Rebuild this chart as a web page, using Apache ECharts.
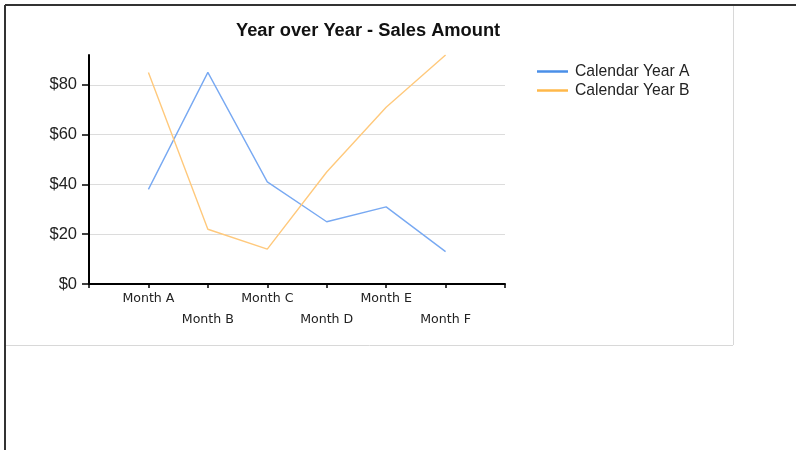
<!DOCTYPE html>
<html>
<head>
<meta charset="utf-8">
<script src="https://cdn.jsdelivr.net/npm/echarts@6/dist/echarts.min.js"></script>
<style>
html,body{margin:0;padding:0;background:#fff;}
#chart{width:796px;height:450px;}
</style>
</head>
<body>
<div id="chart"></div>
<script>
var categories = ['Month A', 'Month B', 'Month C', 'Month D', 'Month E', 'Month F'];
var yearA = [38, 85, 41, 25, 31, 13];
var yearB = [85, 22, 14, 45, 71, 92];
var yTicks = [0, 20, 40, 60, 80];
var seriesNames = ['Calendar Year A', 'Calendar Year B'];

var paddedCats = [''].concat(categories, ['']);
function pad(arr) { return [null].concat(arr, [null]); }

var chart = echarts.init(document.getElementById('chart'), null, {renderer: 'canvas'});
chart.setOption({
  animation: false,
  backgroundColor: '#ffffff',
  title: {
    text: 'Year over Year - Sales Amount',
    left: 236,
    top: 21.5,
    padding: 0,
    textStyle: {fontFamily: 'Liberation Sans', fontSize: 18.3, fontWeight: 'bold', color: '#111'}
  },
  legend: {
    orient: 'vertical',
    left: 537,
    top: 62,
    padding: 0,
    itemGap: 0,
    itemWidth: 31,
    itemHeight: 2.5,
    icon: 'rect',
    textStyle: {fontFamily: 'Liberation Sans', fontSize: 15.7, color: '#222', lineHeight: 19, padding: [0, 0, 0, 2]},
    data: [
      {name: seriesNames[0], itemStyle: {color: '#4a8fe8'}},
      {name: seriesNames[1], itemStyle: {color: '#ffb84a'}}
    ]
  },
  grid: {left: 89, right: 291, top: 55, bottom: 166, containLabel: false},
  xAxis: {
    type: 'category',
    boundaryGap: false,
    data: paddedCats,
    axisLine: {show: true, lineStyle: {color: '#000', width: 2}},
    axisTick: {show: true, length: 4, interval: 0, lineStyle: {color: '#000', width: 1.5}},
    axisLabel: {
      interval: 0,
      margin: 3.8,
      fontFamily: 'DejaVu Sans',
      fontSize: 12.6,
      lineHeight: 21.5,
      color: '#222',
      formatter: function (v, i) { return i % 2 === 0 ? '\n' + v : v; }
    },
    splitLine: {show: false}
  },
  yAxis: {
    type: 'value',
    min: 0,
    max: 92,
    interval: 20,
    axisLine: {show: true, lineStyle: {color: '#000', width: 2}},
    axisTick: {show: true, length: 7, customValues: yTicks, lineStyle: {color: '#000', width: 1.5}},
    axisLabel: {
      customValues: yTicks,
      margin: 12,
      fontFamily: 'Liberation Sans',
      fontSize: 16.5,
      color: '#222',
      formatter: function (v) { return '$' + v; }
    },
    splitLine: {show: true, showMinLine: false, lineStyle: {color: '#dcdcdc', width: 1}}
  },
  series: [
    {
      name: seriesNames[0],
      type: 'line',
      data: pad(yearA),
      symbol: 'none',
      itemStyle: {color: '#4a8fe8'},
      lineStyle: {color: '#78a9f2', width: 1.4}
    },
    {
      name: seriesNames[1],
      type: 'line',
      data: pad(yearB),
      symbol: 'none',
      itemStyle: {color: '#ffb84a'},
      lineStyle: {color: '#ffc97c', width: 1.4}
    }
  ],
  graphic: [
    {type: 'line', shape: {x1: 5, y1: 5, x2: 796, y2: 5}, style: {stroke: '#333', lineWidth: 2}, silent: true},
    {type: 'line', shape: {x1: 5, y1: 5, x2: 5, y2: 450}, style: {stroke: '#333', lineWidth: 2}, silent: true},
    {type: 'line', shape: {x1: 733.5, y1: 6, x2: 733.5, y2: 345}, style: {stroke: '#d8d8d8', lineWidth: 1}, silent: true},
    {type: 'line', shape: {x1: 6, y1: 345.5, x2: 733, y2: 345.5}, style: {stroke: '#d8d8d8', lineWidth: 1}, silent: true}
  ]
});
</script>
</body>
</html>
